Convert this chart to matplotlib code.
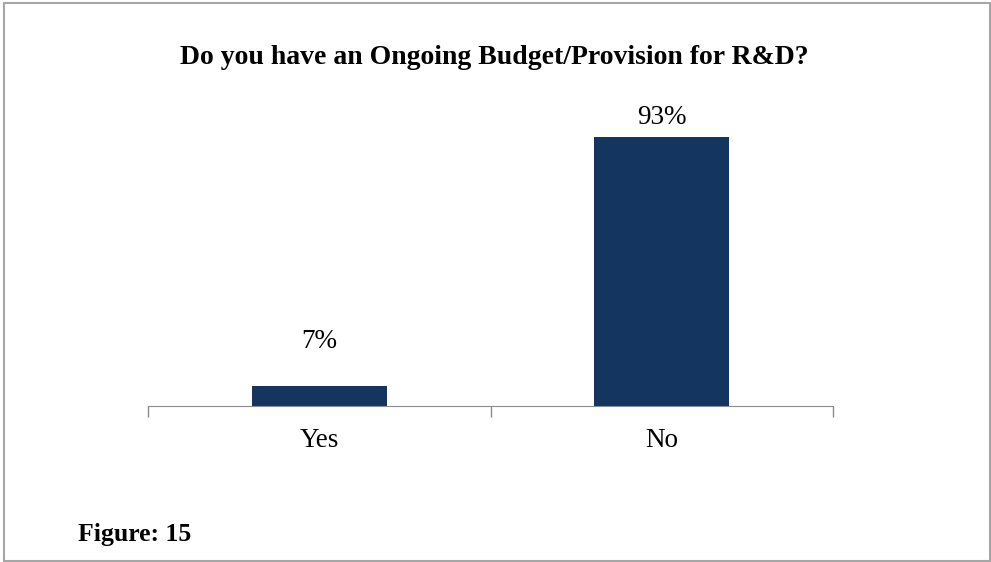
import matplotlib.pyplot as plt
from matplotlib.patches import Rectangle

# DATA
categories = ['Yes', 'No']
values = [7, 93]
labels = ['7%', '93%']

# label offsets above bar top (points) - the source chart has them nudged
label_offsets = [32, 14]

plt.rcParams['font.family'] = ['Liberation Serif', 'DejaVu Serif']

fig = plt.figure(figsize=(9.91, 5.62), dpi=100)
ax = fig.add_axes([148/991, 1 - 406/562, 685/991, 289/562])

x = range(len(categories))
ax.bar(x, values, width=0.394, color='#14355f')

for i, v in enumerate(values):
    ax.annotate(labels[i], (i, v), xytext=(0, label_offsets[i]), textcoords='offset points',
                ha='center', va='center', fontsize=19.5, color='black')

ax.set_xlim(-0.5, 1.5)
ax.set_ylim(0, 100)
ax.set_yticks([])
ax.set_xticks([-0.5, 0.5, 1.5])
ax.set_xticklabels([])
ax.tick_params(axis='x', length=8, color='#8c8c8c', width=1)
for i, c in enumerate(categories):
    ax.text(i, -12, c, ha='center', va='center', fontsize=19.5, transform=ax.transData)
for s in ['top', 'right', 'left']:
    ax.spines[s].set_visible(False)
ax.spines['bottom'].set_color('#8c8c8c')

fig.text(494/991, 1 - 58/562, 'Do you have an Ongoing Budget/Provision for R&D?',
         ha='center', va='center', fontsize=20, fontweight='bold')
fig.text(78/991, 1 - 535/562, 'Figure: 15', ha='left', va='center', fontsize=18.5, fontweight='bold')

# outer frame
fig.patches.append(Rectangle((4/991, 1/562), 986/991, 558/562, transform=fig.transFigure,
                             fill=False, edgecolor='#a6a6a6', linewidth=1.5))

fig.savefig('out.png', dpi=100)
